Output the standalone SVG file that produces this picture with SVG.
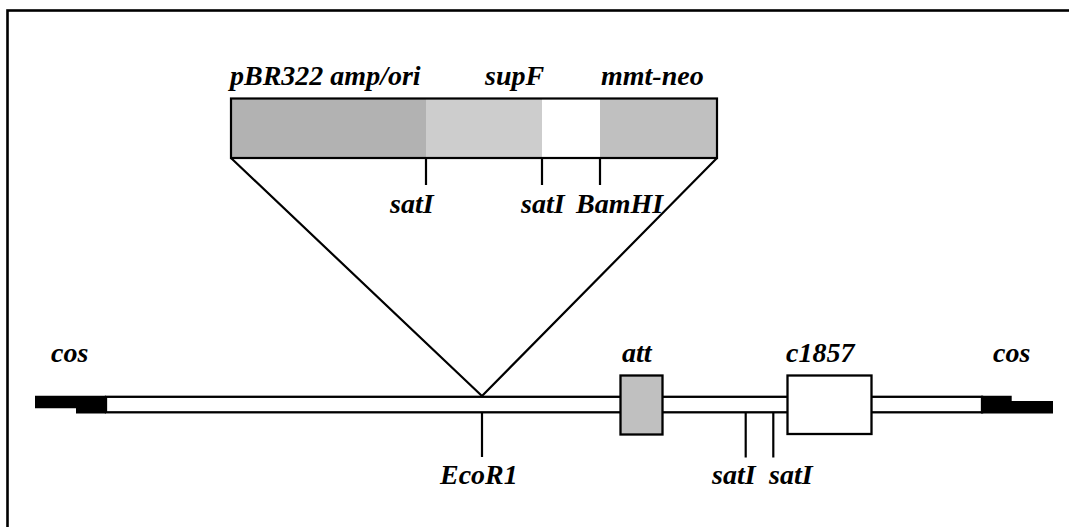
<svg xmlns="http://www.w3.org/2000/svg" width="1069" height="527" viewBox="0 0 1069 527">
<style>
text{font-family:"Liberation Serif","Times New Roman",serif;font-weight:bold;font-style:italic;font-size:28px;fill:#000}
.ln{stroke:#000;stroke-width:2.2;fill:none}
.bx{stroke:#000;stroke-width:2.3}
</style>
<rect x="0" y="0" width="1069" height="527" fill="#fff"/>
<rect id="frame" x="7.5" y="10.5" width="1100" height="600" fill="none" stroke="#000" stroke-width="2.6"/>
<g id="insert">
<rect x="231" y="98.5" width="195" height="59.5" fill="#b2b2b2"/>
<rect x="426" y="98.5" width="116" height="59.5" fill="#cdcdcd"/>
<rect x="542" y="98.5" width="58" height="59.5" fill="#fff"/>
<rect x="600" y="98.5" width="117" height="59.5" fill="#c0c0c0"/>
<rect x="231" y="98.5" width="486" height="59.5" class="ln"/>
<text x="230" y="85">pBR322 amp/ori</text>
<text x="485" y="85">supF</text>
<text x="601" y="85">mmt-neo</text>
</g>
<g id="lambda">
<rect x="106" y="396.8" width="876" height="15.5" fill="#fff" class="bx"/>
<polygon points="35,395.7 106,395.7 106,413.4 76,413.4 76,408.3 35,408.3" fill="#000"/>
<polygon points="981,395.7 1011.7,395.7 1011.7,401 1053,401 1053,413.4 981,413.4" fill="#000"/>
<text x="51" y="362">cos</text>
<text x="993" y="362">cos</text>
</g>
<g id="att">
<rect x="620.5" y="375.5" width="42" height="59" fill="#c0c0c0" class="bx"/>
<text x="622" y="362">att</text>
</g>
<g id="c1857">
<rect x="787.5" y="375.5" width="84" height="58.5" fill="#fff" class="bx"/>
<text x="786" y="362">c1857</text>
</g>
<g id="connectors">
<polyline points="231,158 482,396 717,158" class="ln"/>
<line x1="426" y1="158" x2="426" y2="185" class="ln"/>
<line x1="542" y1="158" x2="542" y2="185" class="ln"/>
<line x1="600" y1="158" x2="600" y2="185" class="ln"/>
<line x1="482" y1="413" x2="482" y2="457" class="ln"/>
<line x1="745.7" y1="413" x2="745.7" y2="457.5" class="ln"/>
<line x1="773.3" y1="413" x2="773.3" y2="457.5" class="ln"/>
</g>
<g id="sites">
<text x="390" y="213">satI</text>
<text x="521" y="213">satI</text>
<text x="576" y="213">BamHI</text>
<text x="440" y="484">EcoR1</text>
<text x="712" y="484">satI</text>
<text x="769" y="484">satI</text>
</g>
</svg>
